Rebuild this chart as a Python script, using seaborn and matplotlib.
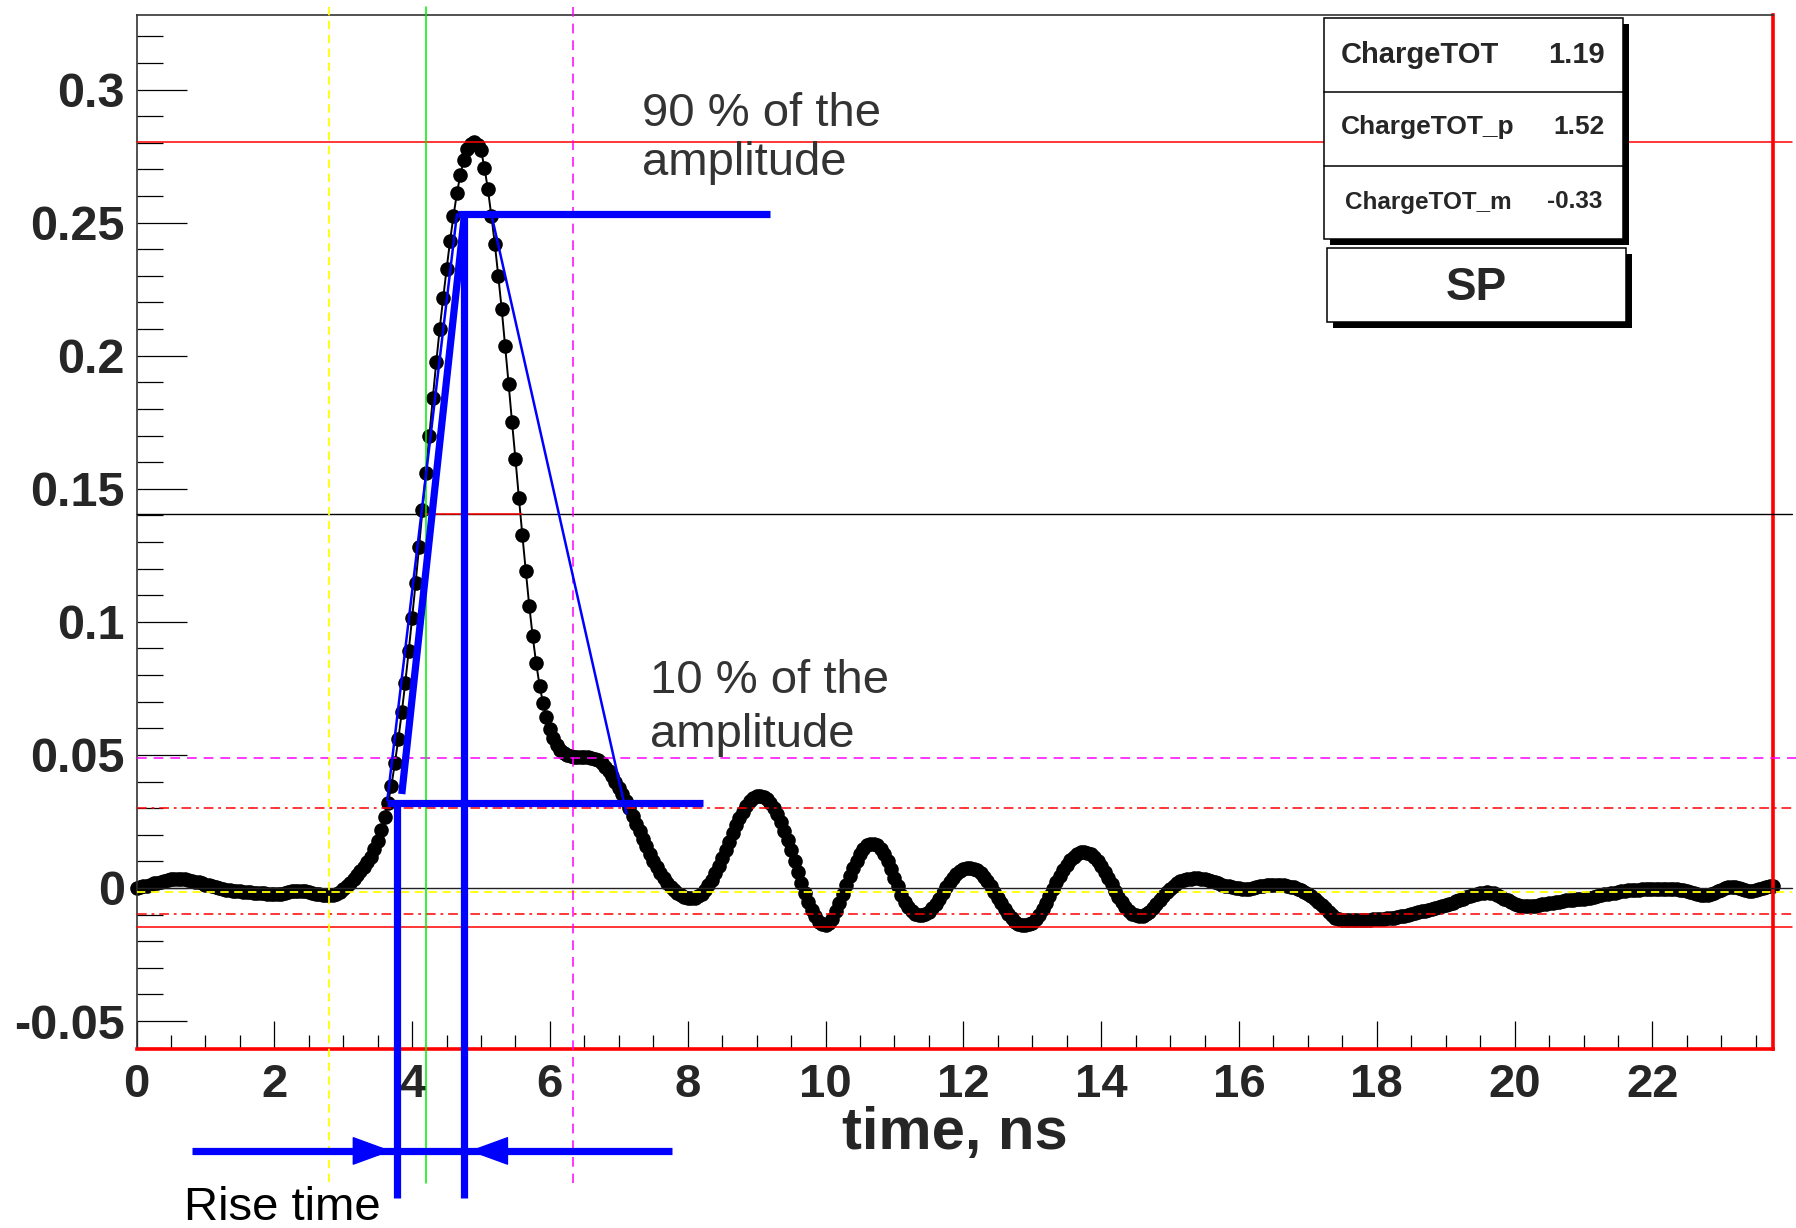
import numpy as np
import pandas as pd
import matplotlib
matplotlib.use('Agg')
import matplotlib.pyplot as plt
from matplotlib.patches import Rectangle
from matplotlib.lines import Line2D
from matplotlib.ticker import MultipleLocator, FuncFormatter
import seaborn as sns

W_PX, H_PX = 1796, 1228
DPI = 100
SAMPLE_NS = 0.05

# waveform, one sample every 0.05 ns
segment_start_ns = [0.0, 3.0, 8.0, 16.0]
amp_baseline = [  # 0.00 .. 2.95 ns
	0.0000, 0.0003, 0.0006, 0.0009, 0.0013, 0.0017, 0.0020, 0.0024, 0.0028, 0.0031,
	0.0034, 0.0035, 0.0035, 0.0034, 0.0032, 0.0030, 0.0027, 0.0024, 0.0021, 0.0017,
	0.0013, 0.0010, 0.0006, 0.0003, 0.0000, -0.0003, -0.0006, -0.0008, -0.0010, -0.0012,
	-0.0013, -0.0014, -0.0015, -0.0016, -0.0017, -0.0018, -0.0019, -0.0020, -0.0021, -0.0022,
	-0.0022, -0.0022, -0.0021, -0.0019, -0.0016, -0.0013, -0.0011, -0.0010, -0.0011, -0.0013,
	-0.0016, -0.0019, -0.0022, -0.0024, -0.0026, -0.0027, -0.0027, -0.0025, -0.0021, -0.0014,
]
amp_pulse = [  # 3.00 .. 7.95 ns
	-0.0005, 0.0006, 0.0019, 0.0033, 0.0047, 0.0062, 0.0078, 0.0096, 0.0118, 0.0145,
	0.0178, 0.0218, 0.0265, 0.0320, 0.0385, 0.0470, 0.0560, 0.0660, 0.0770, 0.0890,
	0.1015, 0.1145, 0.1280, 0.1420, 0.1560, 0.1700, 0.1840, 0.1975, 0.2100, 0.2215,
	0.2325, 0.2430, 0.2525, 0.2610, 0.2680, 0.2735, 0.2775, 0.2797, 0.2803, 0.2792,
	0.2772, 0.2705, 0.2625, 0.2525, 0.2420, 0.2300, 0.2175, 0.2035, 0.1895, 0.1750,
	0.1610, 0.1465, 0.1325, 0.1190, 0.1060, 0.0945, 0.0845, 0.0760, 0.0695, 0.0642,
	0.0598, 0.0563, 0.0538, 0.0520, 0.0507, 0.0499, 0.0494, 0.0492, 0.0491, 0.0491,
	0.0492, 0.0492, 0.0490, 0.0486, 0.0479, 0.0469, 0.0456, 0.0440, 0.0421, 0.0400,
	0.0377, 0.0352, 0.0326, 0.0299, 0.0271, 0.0242, 0.0213, 0.0184, 0.0156, 0.0129,
	0.0103, 0.0079, 0.0057, 0.0037, 0.0019, 0.0004, -0.0009, -0.0020, -0.0028, -0.0034,
]
amp_ringing = [  # 8.00 .. 15.95 ns
	-0.0038, -0.0039, -0.0037, -0.0031, -0.0021, -0.0007, 0.0010, 0.0031, 0.0055, 0.0082,
	0.0111, 0.0142, 0.0174, 0.0205, 0.0235, 0.0262, 0.0287, 0.0308, 0.0325, 0.0337,
	0.0344, 0.0346, 0.0343, 0.0334, 0.0320, 0.0301, 0.0277, 0.0248, 0.0215, 0.0180,
	0.0143, 0.0102, 0.0060, 0.0020, -0.0018, -0.0052, -0.0082, -0.0107, -0.0126, -0.0137,
	-0.0139, -0.0133, -0.0115, -0.0088, -0.0056, -0.0022, 0.0012, 0.0045, 0.0075, 0.0102,
	0.0126, 0.0146, 0.0160, 0.0167, 0.0167, 0.0160, 0.0146, 0.0126, 0.0100, 0.0070,
	0.0038, 0.0006, -0.0025, -0.0052, -0.0073, -0.0088, -0.0097, -0.0101, -0.0101, -0.0098,
	-0.0090, -0.0077, -0.0060, -0.0040, -0.0019, 0.0002, 0.0021, 0.0038, 0.0052, 0.0063,
	0.0070, 0.0074, 0.0075, 0.0073, 0.0067, 0.0057, 0.0043, 0.0026, 0.0007, -0.0014,
	-0.0036, -0.0058, -0.0079, -0.0098, -0.0114, -0.0126, -0.0134, -0.0138, -0.0139, -0.0137,
	-0.0130, -0.0118, -0.0101, -0.0080, -0.0056, -0.0030, -0.0004, 0.0021, 0.0045, 0.0067,
	0.0087, 0.0104, 0.0118, 0.0128, 0.0134, 0.0136, 0.0133, 0.0126, 0.0115, 0.0100,
	0.0082, 0.0061, 0.0038, 0.0014, -0.0010, -0.0033, -0.0054, -0.0072, -0.0087, -0.0097,
	-0.0103, -0.0105, -0.0104, -0.0099, -0.0090, -0.0077, -0.0062, -0.0046, -0.0030, -0.0015,
	-0.0002, 0.0009, 0.0018, 0.0025, 0.0030, 0.0033, 0.0035, 0.0036, 0.0036, 0.0035,
	0.0033, 0.0030, 0.0026, 0.0021, 0.0017, 0.0013, 0.0009, 0.0006, 0.0003, 0.0001,
]
amp_tail = [  # 16.00 .. 23.75 ns
	-0.0001, -0.0003, -0.0003, -0.0002, 0.0000, 0.0003, 0.0006, 0.0009, 0.0011, 0.0012,
	0.0012, 0.0012, 0.0011, 0.0010, 0.0008, 0.0005, 0.0002, -0.0002, -0.0007, -0.0014,
	-0.0022, -0.0031, -0.0041, -0.0052, -0.0064, -0.0076, -0.0089, -0.0101, -0.0111, -0.0117,
	-0.0120, -0.0121, -0.0121, -0.0121, -0.0121, -0.0120, -0.0120, -0.0119, -0.0119, -0.0118,
	-0.0117, -0.0116, -0.0115, -0.0114, -0.0113, -0.0112, -0.0110, -0.0107, -0.0104, -0.0101,
	-0.0098, -0.0095, -0.0091, -0.0088, -0.0085, -0.0081, -0.0078, -0.0075, -0.0071, -0.0067,
	-0.0063, -0.0059, -0.0055, -0.0050, -0.0045, -0.0040, -0.0035, -0.0030, -0.0026, -0.0022,
	-0.0019, -0.0017, -0.0016, -0.0017, -0.0020, -0.0026, -0.0033, -0.0040, -0.0047, -0.0054,
	-0.0060, -0.0065, -0.0068, -0.0069, -0.0069, -0.0068, -0.0066, -0.0064, -0.0061, -0.0059,
	-0.0057, -0.0055, -0.0053, -0.0051, -0.0049, -0.0047, -0.0046, -0.0044, -0.0043, -0.0042,
	-0.0041, -0.0039, -0.0036, -0.0033, -0.0030, -0.0027, -0.0024, -0.0021, -0.0019, -0.0017,
	-0.0015, -0.0013, -0.0011, -0.0009, -0.0008, -0.0007, -0.0006, -0.0005, -0.0005, -0.0005,
	-0.0005, -0.0005, -0.0004, -0.0004, -0.0004, -0.0004, -0.0005, -0.0005, -0.0006, -0.0008,
	-0.0011, -0.0015, -0.0019, -0.0023, -0.0026, -0.0027, -0.0026, -0.0023, -0.0018, -0.0012,
	-0.0006, -0.0001, 0.0003, 0.0005, 0.0004, 0.0001, -0.0003, -0.0007, -0.0010, -0.0010,
	-0.0008, -0.0004, 0.0000, 0.0004, 0.0007, 0.0009,
]

# horizontal reference levels (max, half, shoulder, thresholds, zero, baseline, min)
level_values = [0.2801, 0.1404, 0.0490, 0.0300, 0.0, -0.0015, -0.0098, -0.0146]
# vertical markers: integration start, cfd time, integration end
marker_times = [2.80, 4.20, 6.34]
# rise time construction
rise_levels = [0.0319, 0.2531]        # 10 % and 90 % of the amplitude
rise_times = [3.775, 4.76]
half_red_span = [4.18, 5.59]
level10_span = [3.63, 8.22]
level90_span = [4.66, 9.20]
edge_thick = ([3.85, 4.76], [0.0353, 0.2531])
edge_thin_up = ([3.64, 4.65], [0.033, 0.2531])
edge_thin_down = ([5.15, 7.11], [0.2531, 0.028])
arrow_span = [0.81, 7.77]
arrow_tips = [3.70, 4.83]

stat_names = ['ChargeTOT', 'ChargeTOT_p', 'ChargeTOT_m']
stat_values = ['1.19', '1.52', '-0.33']

# layout constants (data units outside the frame)
H_RIGHT = 24.03
V_TOP, V_BOTTOM = 0.331, -0.1108
BLUE_BOTTOM = -0.1164
ARROW_Y = -0.0988

segments = [amp_baseline, amp_pulse, amp_ringing, amp_tail]
frames = []
for t0, seg in zip(segment_start_ns, segments):
	frames.append(pd.DataFrame({
		'time_ns': np.round(t0 + np.arange(len(seg)) * SAMPLE_NS, 3),
		'amplitude': seg,
	}))
wave = pd.concat(frames, ignore_index=True)

sns.set_style('ticks')
plt.rcParams['font.family'] = ['Liberation Sans', 'DejaVu Sans']
plt.rcParams['font.weight'] = 'bold'
plt.rcParams['axes.unicode_minus'] = False
plt.rcParams['lines.scale_dashes'] = False


def fig_xy(x, y):
	''' pixel position (origin top left) -> figure fraction '''
	return x / W_PX, 1 - y / H_PX


fig = plt.figure(figsize=(W_PX / DPI, H_PX / DPI), dpi=DPI)
ax = fig.add_axes([136.5 / W_PX, 1 - 1049 / H_PX, (1773 - 136.5) / W_PX, (1049 - 15) / H_PX])

sns.lineplot(data=wave, x='time_ns', y='amplitude', ax=ax, color='black',
	linewidth=1.4, marker='o', markersize=10.5, markeredgewidth=0,
	errorbar=None, sort=False, zorder=2, clip_on=False)

ax.set_xlim(0, 23.75)
ax.set_ylim(-0.0605, 0.328)

RED, BLUE = '#ff0000', '#0000ff'
DASH = (0, (6, 4))
DASH_M = (0, (7, 5))
DASHDOT = (0, (7, 3.5, 2, 3.5))
level_styles = [
	(RED, '-', 1.1, H_RIGHT),
	('black', '-', 1.0, H_RIGHT),
	('#ff00ff', DASH_M, 1.1, 24.3),
	(RED, DASHDOT, 1.1, H_RIGHT),
	('#222222', '-', 1.0, H_RIGHT),
	('#ffff00', DASH, 1.3, H_RIGHT),
	(RED, DASHDOT, 1.1, H_RIGHT),
	(RED, '-', 1.1, H_RIGHT),
]
for lvl, (col, ls, lw, right) in zip(level_values, level_styles):
	ax.plot([0, right], [lvl, lvl], color=col, linestyle=ls, lw=lw, clip_on=False, zorder=3)
ax.plot(half_red_span, [level_values[1]] * 2, color=RED, lw=1.1, zorder=3)

marker_styles = [('#ffff00', DASH, 1.3), ('#00ee00', '-', 1.1), ('#ff00ff', DASH_M, 1.1)]
for tm, (col, ls, lw) in zip(marker_times, marker_styles):
	ax.plot([tm, tm], [V_TOP, V_BOTTOM], color=col, linestyle=ls, lw=lw, clip_on=False, zorder=3)

# rise time construction in blue
THICK, THIN = 5.2, 1.8
for tr, lvl in zip(rise_times, rise_levels):
	ax.plot([tr, tr], [lvl, BLUE_BOTTOM], color=BLUE, lw=THICK, solid_capstyle='butt',
		clip_on=False, zorder=4)
ax.plot(level10_span, [rise_levels[0]] * 2, color=BLUE, lw=THICK, solid_capstyle='butt', zorder=4)
ax.plot(level90_span, [rise_levels[1]] * 2, color=BLUE, lw=THICK, solid_capstyle='butt', zorder=4)
ax.plot(*edge_thick, color=BLUE, lw=THICK, solid_capstyle='butt', zorder=4)
ax.plot(*edge_thin_up, color=BLUE, lw=THIN, zorder=4)
ax.plot(*edge_thin_down, color=BLUE, lw=THIN, zorder=4)
ax.plot(arrow_span, [ARROW_Y] * 2, color=BLUE, lw=THICK, solid_capstyle='butt', clip_on=False, zorder=4)
for tip, start in zip(arrow_tips, [arrow_tips[0] - 0.6, arrow_tips[1] + 0.6]):
	ax.annotate('', xy=(tip, ARROW_Y), xytext=(start, ARROW_Y), annotation_clip=False,
		arrowprops=dict(arrowstyle='-|>,head_length=2.6,head_width=0.95', mutation_scale=10,
			color=BLUE, lw=1, shrinkA=0, shrinkB=0), zorder=4)

# axes styling, ROOT look
ax.xaxis.set_major_locator(MultipleLocator(2))
ax.xaxis.set_minor_locator(MultipleLocator(0.5))
ax.yaxis.set_major_locator(MultipleLocator(0.05))
ax.yaxis.set_minor_locator(MultipleLocator(0.01))


def fmt(v, pos):
	v = round(v, 4)
	return '0' if abs(v) < 1e-9 else '{:g}'.format(v)


ax.xaxis.set_major_formatter(FuncFormatter(fmt))
ax.yaxis.set_major_formatter(FuncFormatter(fmt))
ax.tick_params(which='both', direction='in', top=False, right=False, color='black', width=0.9)
ax.tick_params(axis='y', which='major', length=36, labelsize=35, pad=8.5)
ax.tick_params(axis='y', which='minor', length=19)
ax.tick_params(axis='x', which='major', length=20, labelsize=34, pad=10)
ax.tick_params(axis='x', which='minor', length=10)
for side in ['left', 'top']:
	ax.spines[side].set_color('#333333')
	ax.spines[side].set_linewidth(1.2)
for side in ['right', 'bottom']:
	ax.spines[side].set_color(RED)
	ax.spines[side].set_linewidth(2.6)

ax.set_ylabel('')
ax.set_xlabel('time, ns', fontsize=43, fontweight='bold')
ax.xaxis.set_label_coords(0.5, -(1149 - 1049) / 1034)
ax.xaxis.label.set_va('baseline')

# annotation texts
note_kw = dict(fontsize=34, fontweight='normal', va='baseline', ha='left')
fig.text(*fig_xy(642, 126), '90 % of the', color='#333333', **note_kw)
fig.text(*fig_xy(642, 175), 'amplitude', color='#333333', **note_kw)
fig.text(*fig_xy(650, 693), '10 % of the', color='#333333', **note_kw)
fig.text(*fig_xy(650, 747), 'amplitude', color='#333333', **note_kw)
fig.text(*fig_xy(184, 1220), 'Rise time', color='black', **note_kw)


def stat_box(x0, y0, x1, y1, shadow=6):
	fig.patches.append(Rectangle(fig_xy(x0 + shadow, y1 + shadow), (x1 - x0) / W_PX, (y1 - y0) / H_PX,
		transform=fig.transFigure, facecolor='black', edgecolor='none', zorder=10))
	fig.patches.append(Rectangle(fig_xy(x0, y1), (x1 - x0) / W_PX, (y1 - y0) / H_PX,
		transform=fig.transFigure, facecolor='white', edgecolor='black', lw=1.1, zorder=11))


stat_box(1324, 18, 1623, 239)
for yd in [92, 166]:
	fig.lines.append(Line2D([1324 / W_PX, 1623 / W_PX], [1 - yd / H_PX] * 2,
		transform=fig.transFigure, color='black', lw=1.1, zorder=12))
row_y = [55, 127, 202]
row_size = [21, 19, 17.5]
row_left = [1341, 1341, 1345]
row_right = [1605, 1605, 1602]
for name, val, yy, fs, xl, xr in zip(stat_names, stat_values, row_y, row_size, row_left, row_right):
	fig.text(*fig_xy(xl, yy), name, fontsize=fs, fontweight='bold', ha='left', va='center', zorder=13)
	fig.text(*fig_xy(xr, yy), val, fontsize=fs, fontweight='bold', ha='right', va='center', zorder=13)

stat_box(1327, 248, 1626, 322)
fig.text(*fig_xy(1476, 288), 'SP', fontsize=33, fontweight='bold', ha='center', va='center', zorder=13)

fig.savefig('out.png', dpi=DPI)
